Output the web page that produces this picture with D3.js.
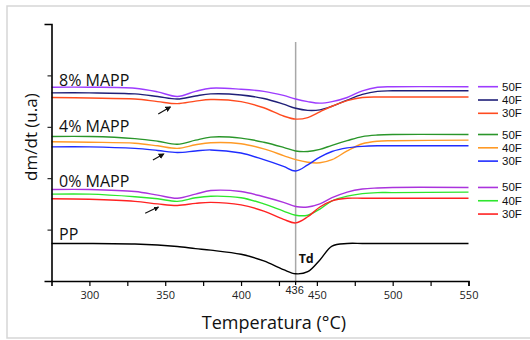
<!DOCTYPE html>
<html>
<head>
<meta charset="utf-8">
<script src="https://cdn.jsdelivr.net/npm/d3@7"></script>
<style>
  body { margin: 0; background: #fff; }
  svg { font-family: "Open Sans", "Noto Sans", sans-serif; }
</style>
</head>
<body>
<svg id="chart" width="530" height="340"></svg>
<script>
// temperatures shared by every curve (°C)
const temps = [275, 300, 330, 345, 358, 370, 380, 400, 415, 428, 436, 444, 452, 460, 470, 480, 490, 500, 550];

// dm/dt in arbitrary units, offset per group as in the figure
const mapp8_50F = [3.77, 3.77, 3.75, 3.68, 3.59, 3.69, 3.75, 3.73, 3.69, 3.61, 3.54, 3.49, 3.46, 3.49, 3.57, 3.70, 3.77, 3.78, 3.78];
const mapp8_40F = [3.66, 3.66, 3.64, 3.59, 3.54, 3.60, 3.64, 3.62, 3.55, 3.44, 3.36, 3.32, 3.33, 3.40, 3.52, 3.63, 3.69, 3.70, 3.70];
const mapp8_30F = [3.57, 3.56, 3.54, 3.49, 3.45, 3.50, 3.53, 3.49, 3.37, 3.21, 3.15, 3.18, 3.29, 3.40, 3.51, 3.57, 3.58, 3.58, 3.58];
const mapp4_50F = [2.81, 2.81, 2.77, 2.72, 2.66, 2.74, 2.80, 2.78, 2.70, 2.60, 2.53, 2.52, 2.56, 2.64, 2.73, 2.81, 2.84, 2.85, 2.85];
const mapp4_40F = [2.71, 2.70, 2.68, 2.63, 2.58, 2.65, 2.69, 2.67, 2.57, 2.44, 2.36, 2.31, 2.30, 2.36, 2.53, 2.67, 2.72, 2.73, 2.74];
const mapp4_30F = [2.61, 2.61, 2.58, 2.54, 2.50, 2.53, 2.55, 2.49, 2.36, 2.23, 2.14, 2.26, 2.41, 2.52, 2.59, 2.62, 2.63, 2.63, 2.63];
const mapp0_50F = [1.78, 1.78, 1.74, 1.67, 1.61, 1.69, 1.76, 1.74, 1.64, 1.53, 1.45, 1.44, 1.50, 1.62, 1.73, 1.79, 1.81, 1.82, 1.82];
const mapp0_40F = [1.69, 1.69, 1.64, 1.60, 1.55, 1.62, 1.65, 1.62, 1.50, 1.36, 1.28, 1.28, 1.40, 1.56, 1.65, 1.70, 1.72, 1.72, 1.73];
const mapp0_30F = [1.60, 1.59, 1.55, 1.50, 1.47, 1.51, 1.53, 1.48, 1.36, 1.20, 1.13, 1.25, 1.44, 1.56, 1.61, 1.61, 1.61, 1.61, 1.61];
const pp = [0.73, 0.73, 0.72, 0.70, 0.67, 0.63, 0.60, 0.52, 0.39, 0.22, 0.14, 0.18, 0.41, 0.68, 0.73, 0.73, 0.73, 0.73, 0.73];

const groupNames = ["8% MAPP", "4% MAPP", "0% MAPP", "PP"];
const groupLabelY = [3.79, 2.90, 1.83, 0.80];
const legendNames = ["50F", "40F", "30F"];
const xTicksMajor = [300, 350, 400, 450, 500, 550];
const xTicksMinor = [325, 375, 425, 475, 525];
const tdTemp = 436;

// arrows pointing at the 360 °C shoulder: [T0, v0, T1, v1]
const arrows = [
  [345.4, 3.25, 353.3, 3.385],
  [341.9, 2.354, 348.9, 2.471],
  [336.8, 1.317, 345.6, 1.446]
];

const series = [
  { group: 0, name: "50F", values: mapp8_50F, color: "#9d3cff" },
  { group: 0, name: "40F", values: mapp8_40F, color: "#1f1f78" },
  { group: 0, name: "30F", values: mapp8_30F, color: "#ff4b1f" },
  { group: 1, name: "50F", values: mapp4_50F, color: "#2a962a" },
  { group: 1, name: "40F", values: mapp4_40F, color: "#ff9a26" },
  { group: 1, name: "30F", values: mapp4_30F, color: "#1f2dff" },
  { group: 2, name: "50F", values: mapp0_50F, color: "#aa33dd" },
  { group: 2, name: "40F", values: mapp0_40F, color: "#2ee62e" },
  { group: 2, name: "30F", values: mapp0_30F, color: "#ff2222" },
  { group: 3, name: "PP", values: pp, color: "#000000" }
];

const svg = d3.select("#chart");

// light frame round the figure
svg.append("rect")
  .attr("x", 7).attr("y", 6)
  .attr("width", 540).attr("height", 332)
  .attr("fill", "#fff")
  .attr("stroke", "#d6d6d6")
  .attr("stroke-width", 1.5);

const x = d3.scaleLinear().domain([275, 550]).range([51.5, 468.5]);
const y = d3.scaleLinear().domain([0, 5]).range([281, 24]);

// vertical marker at Td
svg.append("line")
  .attr("x1", x(tdTemp)).attr("x2", x(tdTemp))
  .attr("y1", y(4.65)).attr("y2", y(0))
  .attr("stroke", "#a8a8a8")
  .attr("stroke-width", 1.5);

const line = d3.line()
  .x((d, i) => x(temps[i]))
  .y(d => y(d))
  .curve(d3.curveCatmullRom.alpha(0.5));

svg.append("g")
  .selectAll("path")
  .data(series)
  .join("path")
  .attr("d", s => line(s.values))
  .attr("fill", "none")
  .attr("stroke", s => s.color)
  .attr("stroke-width", 1.4);

// axes
const yAxis = svg.append("g")
  .attr("transform", `translate(${x(275)},0)`)
  .call(d3.axisLeft(y).ticks(5).tickSize(4).tickSizeOuter(7).tickFormat(""));
yAxis.select(".domain").attr("stroke-width", 1.6);

const xAxis = svg.append("g")
  .attr("transform", `translate(0,${y(0)})`)
  .call(d3.axisBottom(x).tickValues(xTicksMajor.concat(xTicksMinor)).tickSize(5).tickSizeOuter(5)
    .tickFormat(d => xTicksMajor.includes(d) ? d : ""));
xAxis.select(".domain").attr("stroke-width", 1.6);
xAxis.selectAll(".tick line").attr("stroke-width", 1.2);
xAxis.selectAll(".tick text")
  .attr("font-size", 11)
  .attr("fill", "#222")
  .attr("font-family", "'Open Sans', sans-serif")
  .attr("dy", "0.9em");

// 436 tick with its own label
xAxis.append("line")
  .attr("x1", x(tdTemp)).attr("x2", x(tdTemp))
  .attr("y1", 0).attr("y2", 4)
  .attr("stroke", "#000").attr("stroke-width", 1.2);
xAxis.append("text")
  .attr("x", x(tdTemp) - 1).attr("y", 13)
  .attr("text-anchor", "middle")
  .attr("font-size", 11)
  .attr("fill", "#222")
  .text(tdTemp);

svg.append("text")
  .attr("x", x(tdTemp) + 3).attr("y", y(0.35))
  .attr("font-size", 12.5)
  .attr("font-weight", "bold")
  .attr("fill", "#111")
  .text("Td");

// group labels
svg.append("g")
  .selectAll("text")
  .data(groupNames)
  .join("text")
  .attr("x", x(280))
  .attr("y", (d, i) => y(groupLabelY[i]))
  .attr("font-size", 16)
  .attr("fill", "#111")
  .text(d => d);

// small arrows
svg.append("defs").append("marker")
  .attr("id", "arrowhead")
  .attr("viewBox", "0 0 10 10")
  .attr("refX", 8).attr("refY", 5)
  .attr("markerWidth", 5).attr("markerHeight", 5)
  .attr("orient", "auto")
  .append("path")
  .attr("d", "M0,0L10,5L0,10z")
  .attr("fill", "#111");

svg.append("g")
  .selectAll("line")
  .data(arrows)
  .join("line")
  .attr("x1", a => x(a[0])).attr("y1", a => y(a[1]))
  .attr("x2", a => x(a[2])).attr("y2", a => y(a[3]))
  .attr("stroke", "#111")
  .attr("stroke-width", 1.2)
  .attr("marker-end", "url(#arrowhead)");

// legend, one block per MAPP group, aligned with the flat tail of each curve
const legendSeries = series.filter(s => s.group < 3);
const legendRowY = s => {
  const row = legendNames.indexOf(s.name);
  const top = series.filter(t => t.group === s.group)[0].values.slice(-1)[0];
  return y(top) + row * 13.3;
};
const legend = svg.append("g")
  .selectAll("g")
  .data(legendSeries)
  .join("g")
  .attr("transform", s => `translate(478,${legendRowY(s)})`);
legend.append("line")
  .attr("x1", 0).attr("x2", 20)
  .attr("stroke", s => s.color)
  .attr("stroke-width", 1.6);
legend.append("text")
  .attr("x", 24).attr("dy", "0.35em")
  .attr("font-family", "'Liberation Sans', Arial, sans-serif")
  .attr("font-size", 11.5)
  .attr("fill", "#111")
  .text(s => s.name);

// axis titles
svg.append("text")
  .attr("transform", `translate(37,${y(2.8)}) rotate(-90)`)
  .attr("text-anchor", "middle")
  .attr("font-size", 17)
  .attr("fill", "#111")
  .text("dm/dt (u.a)");

svg.append("text")
  .attr("x", 274).attr("y", 329)
  .attr("text-anchor", "middle")
  .attr("font-size", 18)
  .attr("fill", "#111")
  .text("Temperatura (°C)");
</script>
</body>
</html>
